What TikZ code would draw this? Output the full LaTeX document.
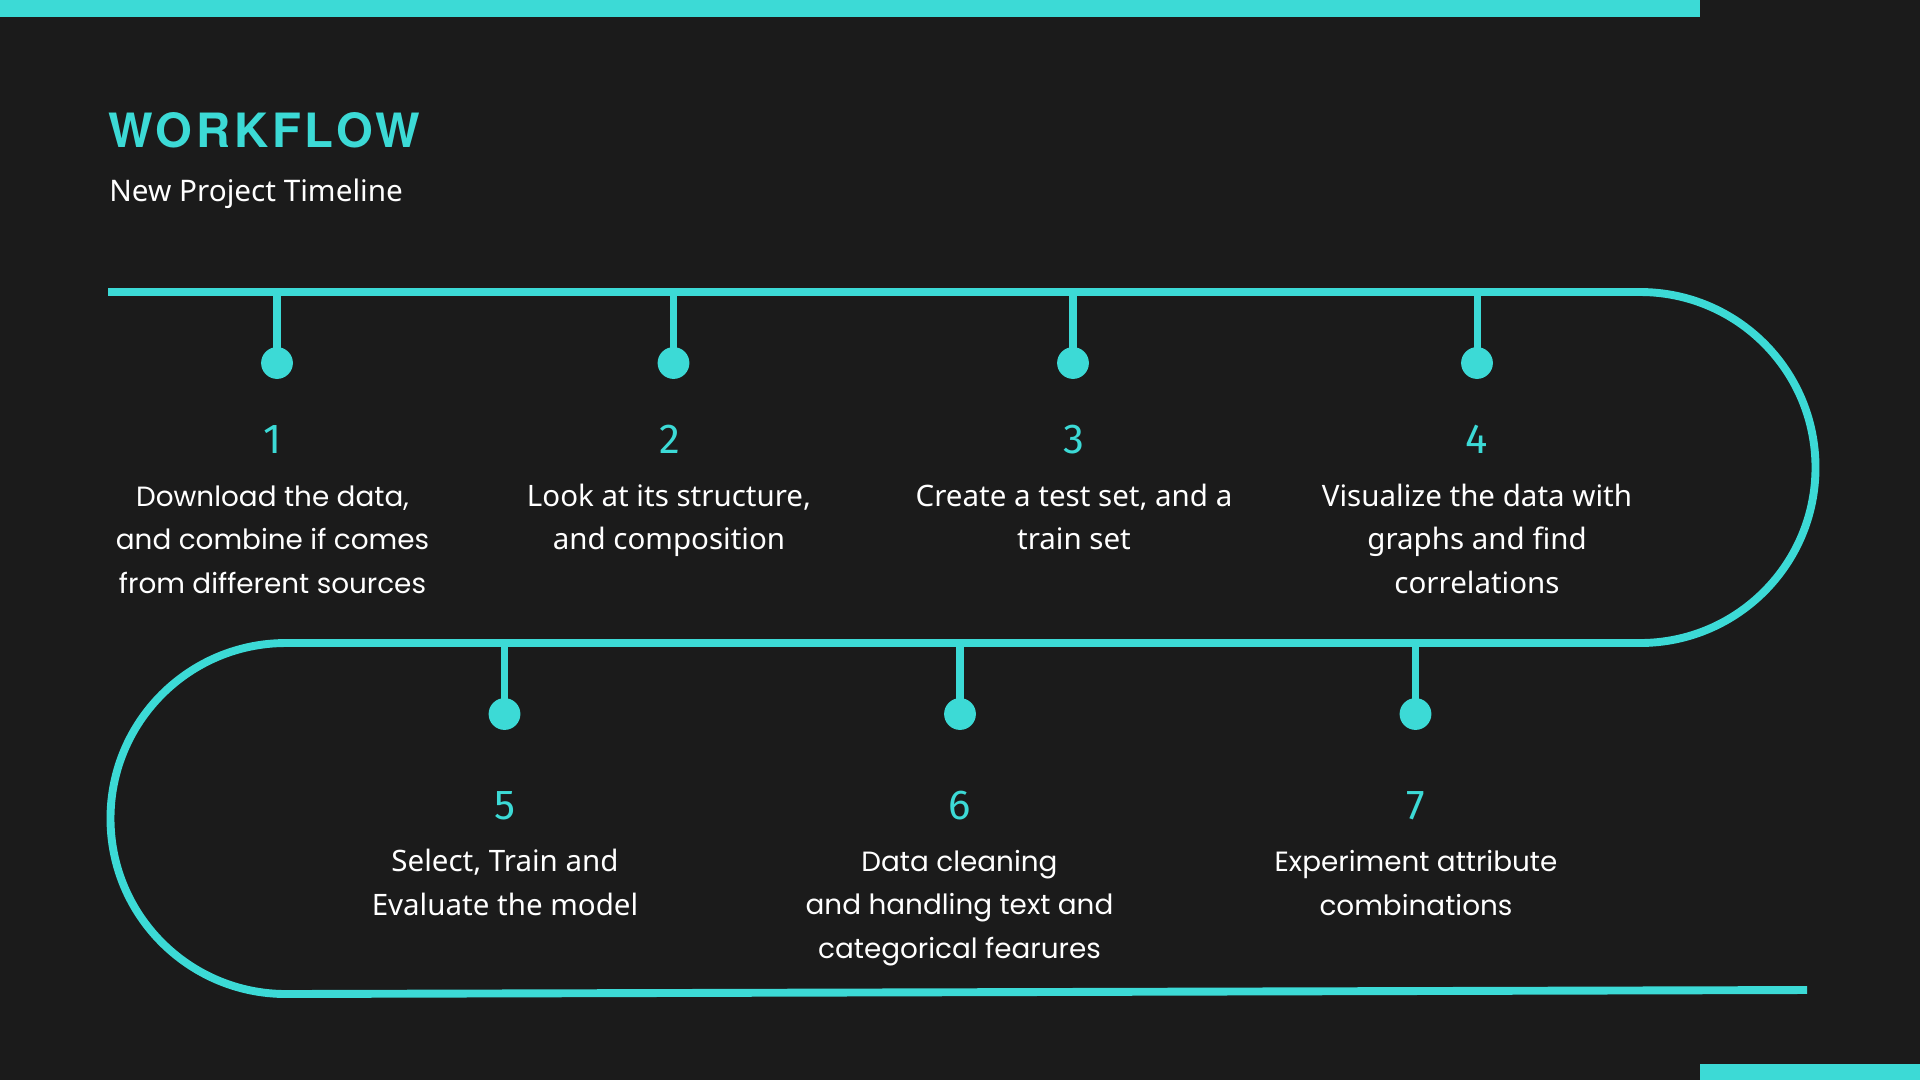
\documentclass[tikz,border=0pt]{standalone}
\usepackage{fontspec}
\setmainfont{Noto Sans}
\newfontfamily\geofont{Poppins}
\newfontfamily\titlefont{TeX Gyre Heros}[LetterSpace=8]
\newfontfamily\digitfont{Fira Sans}
\definecolor{bgc}{RGB}{27,27,27}
\definecolor{cy}{RGB}{60,218,214}
\begin{document}
\begin{tikzpicture}[x=0.02cm,y=-0.02cm,
  track/.style={draw=cy,line width=4.5pt},
  stem/.style={draw=cy,line width=4pt},
  dot/.style={circle,fill=cy,minimum size=18.1pt,inner sep=0pt},
  num/.style={text=cy,font=\digitfont\fontsize{23.8}{28}\selectfont,anchor=base,inner sep=0pt},
  desc/.style={text=white,align=center,anchor=base,inner sep=0pt,font=\fontsize{16.8}{24.7}\selectfont},
  geo/.style={font=\geofont\fontsize{15.85}{24.7}\selectfont}]
\fill[bgc] (0,0) rectangle (1920,1080);
\useasboundingbox (0,0) rectangle (1920,1080);
% corner bars
\fill[cy] (0,0) rectangle (1700,17);
\fill[cy] (1700,1064) rectangle (1920,1080);
% title
\node[anchor=base west,inner sep=0pt,text=cy,font=\titlefont\bfseries\fontsize{26.9}{30}\selectfont] (title) at (108,147) {WORKFLOW};
\node[anchor=base west,inner sep=0pt,text=white,font=\fontsize{16.9}{20}\selectfont] (sub) at (109,201) {New Project Timeline};
% track
\draw[track] (108,292) -- (1640,292) arc[start angle=-90,end angle=90,radius=175.5]
  -- (286,643) arc[start angle=-90,end angle=-270,radius=175.5] -- (1807,990);
% top row
\foreach \i/\x in {1/277,2/673.5,3/1073,4/1477}{
  \coordinate (s\i) at (\x,292);
  \node[dot] (d\i) at (\x,363) {};
  \draw[stem] (s\i) -- (d\i.center);
}
\foreach \i/\x in {5/504.5,6/960,7/1415.5}{
  \coordinate (s\i) at (\x,643);
  \node[dot] (d\i) at (\x,714) {};
  \draw[stem] (s\i) -- (d\i.center);
}
% numbers
\node[num] (n1) at (273,453) {1};
\node[num] (n2) at (670,453) {2};
\node[num] (n3) at (1074,453) {3};
\node[num] (n4) at (1477,453) {4};
\node[num] (n5) at (505,819) {5};
\node[num] (n6) at (959.5,819) {6};
\node[num] (n7) at (1416,819) {7};
% descriptions (anchor = baseline of the last line)
\node[desc,geo] (t1) at (272.5,593) {Download the data,\\and combine if comes\\from different sources};
\node[desc] (t2) at (669,549.5) {Look at its structure,\\and composition};
\node[desc] (t3) at (1074,549.5) {Create a test set, and a\\train set};
\node[desc] (t4) at (1477,593) {Visualize the data with\\graphs and find\\correlations};
\node[desc] (t5) at (505,915) {Select, Train and\\Evaluate the model};
\node[desc,geo] (t6) at (959.5,958) {Data cleaning\\and handling text and\\categorical fearures};
\node[desc,geo] (t7) at (1416,915) {Experiment attribute\\combinations};
\end{tikzpicture}
\end{document}
